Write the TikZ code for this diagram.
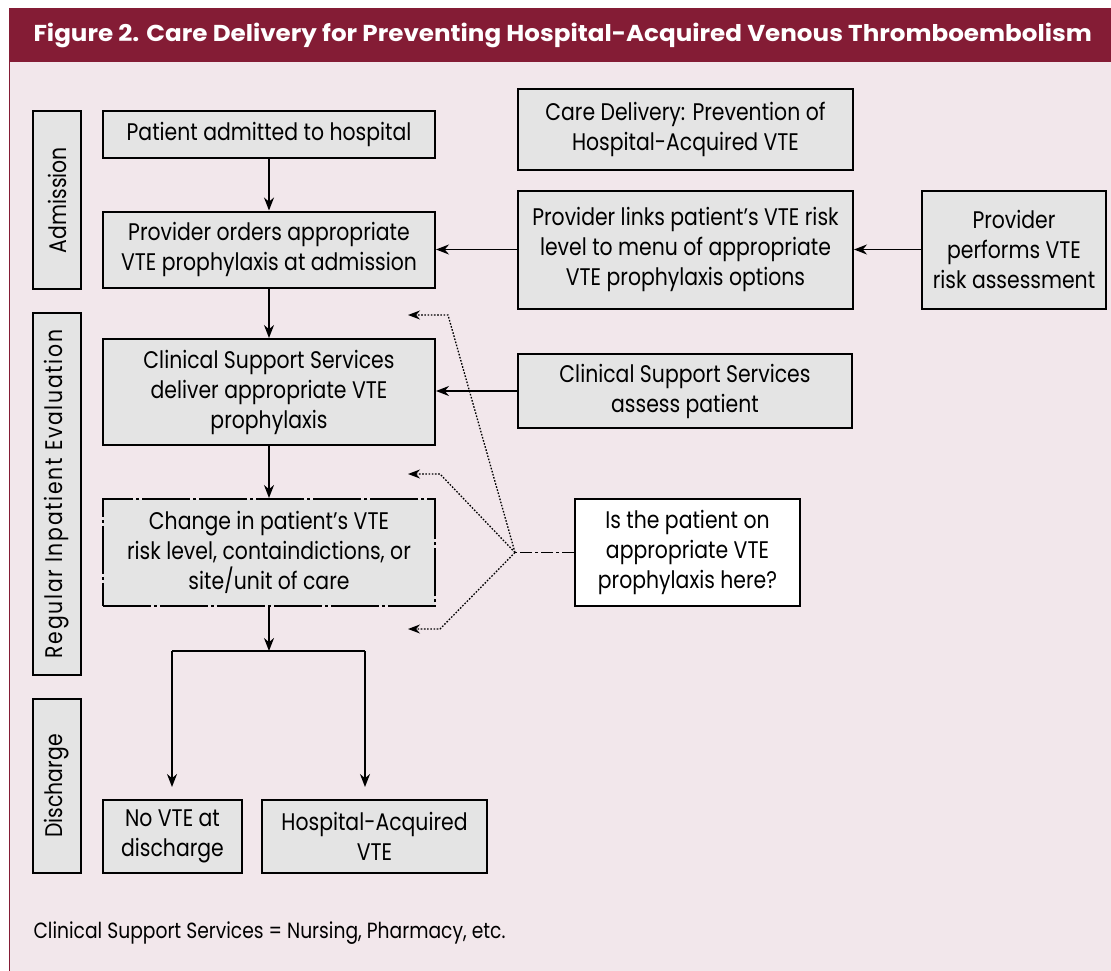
\documentclass[tikz,border=0pt]{standalone}
\usepackage{fontspec}
\setmainfont{Poppins}[FakeStretch=0.85]
\newfontfamily\titleFont{Poppins}[FakeStretch=1.07]
\newfontfamily\sideFont{Poppins}[FakeStretch=0.85, LetterSpace=7]
\usetikzlibrary{arrows.meta, calc, positioning}
\definecolor{barRed}{RGB}{132,28,53}
\definecolor{pagePink}{RGB}{242,231,235}
\definecolor{boxGray}{RGB}{228,228,228}
\tikzset{
    stepBox/.style={draw, line width=2pt, fill=boxGray, align=center, inner sep=0pt, font=\fontsize{24}{30}\selectfont},
    sideBox/.style={stepBox, rotate=90, minimum height=48pt},
    noteBox/.style={stepBox, fill=white},
    flowEdge/.style={-{Stealth[length=13pt, width=10pt]}, line width=1.6pt},
    checkEdge/.style={-{Stealth[length=12pt, width=9pt]}, line width=1.3pt, dash pattern=on 1.6pt off 1.6pt},
    checkLink/.style={line width=1.4pt, dash pattern=on 12pt off 3pt on 3pt off 3pt},
}
\newcommand{\drawFlow}[2]{
    \draw[flowEdge] (#1) -- (#2);
}

\begin{document}
\begin{tikzpicture}[x=1pt, y=-1pt]
    \useasboundingbox (0,0) rectangle (1111,971);
    \fill[white] (0,0) rectangle (1111,971);
    \fill[pagePink] (9,8) rectangle (1111,971);
    \fill[barRed] (9,8) rectangle (1111,62);
    \draw[barRed, line width=1pt] (9,62) -- (9,971);

    \node[anchor=west, text=white, font=\titleFont\bfseries\fontsize{23}{27}\selectfont] (title) at (30,35)
        {Figure 2. Care Delivery for Preventing Hospital-Acquired Venous Thromboembolism};

    % phases
    \node[sideBox, minimum width=178pt] (admission) at (57,200) {Admission};
    \node[sideBox, minimum width=362pt, font=\sideFont\fontsize{24}{30}\selectfont] (regular) at (57,494) {Regular Inpatient Evaluation};
    \node[sideBox, minimum width=174pt] (discharge) at (57,786) {Discharge};

    % main flow
    \node[stepBox, minimum width=332pt, minimum height=47pt] (admit) at (269,134.5) {Patient admitted to hospital};
    \node[stepBox, minimum width=332pt, minimum height=76pt] (orders) at (269,249.5) {Provider orders appropriate\\VTE prophylaxis at admission};
    \node[stepBox, minimum width=332pt, minimum height=106pt] (deliver) at (269,392) {Clinical Support Services\\deliver appropriate VTE\\prophylaxis};
    \node[stepBox, minimum width=332pt, minimum height=107pt, dash pattern=on 48pt off 3pt on 3pt off 3pt] (change) at (269,552.5) {Change in patient’s VTE\\risk level, containdictions, or\\site/unit of care};
    \node[stepBox, minimum width=139pt, minimum height=73pt] (noVte) at (172.5,836.5) {No VTE at\\discharge};
    \node[stepBox, minimum width=225pt, minimum height=73pt] (hospVte) at (374.5,836.5) {Hospital-Acquired\\VTE};

    % right column
    \node[stepBox, minimum width=335pt, minimum height=81pt] (care) at (685.5,129.5) {Care Delivery: Prevention of\\Hospital-Acquired VTE};
    \node[stepBox, minimum width=335pt, minimum height=118pt] (links) at (685.5,249.5) {Provider links patient’s VTE risk\\level to menu of appropriate\\VTE prophylaxis options};
    \node[stepBox, minimum width=184pt, minimum height=118pt] (performs) at (1014,249.5) {Provider\\performs VTE\\risk assessment};
    \node[stepBox, minimum width=334pt, minimum height=74pt] (assess) at (685,391) {Clinical Support Services\\assess patient};
    \node[noteBox, minimum width=225pt, minimum height=107pt] (question) at (687.5,552.5) {Is the patient on\\appropriate VTE\\prophylaxis here?};

    \node[anchor=west, font=\fontsize{22}{26}\selectfont] (footNote) at (30,933) {Clinical Support Services = Nursing, Pharmacy, etc.};

    \coordinate (split) at (269,651);
    \coordinate (splitL) at (172,651);
    \coordinate (splitR) at (365,651);
    \coordinate (endL) at (172,787);
    \coordinate (endR) at (365,787);
    \coordinate (hub) at (515,552.5);
    \coordinate (bendA) at (448,315);
    \coordinate (tipA) at (408,315);
    \coordinate (bendB) at (440,474);
    \coordinate (tipB) at (408,474);
    \coordinate (bendC) at (440,629);
    \coordinate (tipC) at (408,629);

    \drawFlow{admit}{orders}
    \drawFlow{orders}{deliver}
    \drawFlow{deliver}{change}
    \drawFlow{change}{split}
    \draw[line width=1.6pt] (splitL) -- (splitR);
    \drawFlow{splitL}{endL}
    \drawFlow{splitR}{endR}
    \drawFlow{links.west}{links.west -| orders.east}
    \drawFlow{performs.west}{performs.west -| links.east}
    \drawFlow{assess.west}{assess.west -| deliver.east}

    % checks
    \draw[checkLink] (question.west) -- (hub);
    \draw[checkEdge] (hub) -- (bendA) -- (tipA);
    \draw[checkEdge] (hub) -- (bendB) -- (tipB);
    \draw[checkEdge] (hub) -- (bendC) -- (tipC);
\end{tikzpicture}
\end{document}
